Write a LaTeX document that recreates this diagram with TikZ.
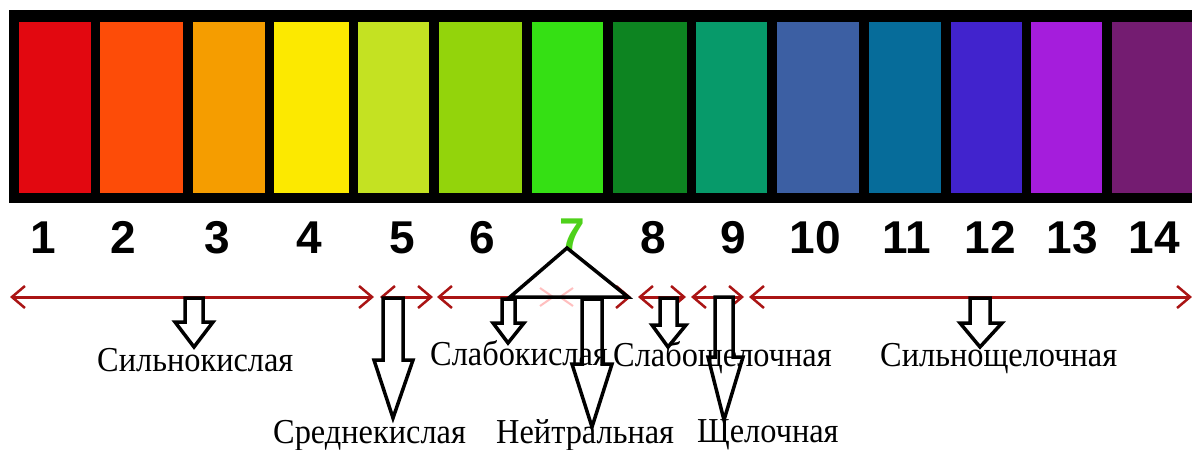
\documentclass[tikz,border=0pt]{standalone}
\usepackage{fontspec}
\setmainfont{Liberation Serif}
\newfontfamily\numfont{Liberation Sans}
\usetikzlibrary{arrows.meta}
\definecolor{c1}{RGB}{226,8,16}
\definecolor{c2}{RGB}{253,76,8}
\definecolor{c3}{RGB}{245,157,0}
\definecolor{c4}{RGB}{252,233,0}
\definecolor{c5}{RGB}{196,226,34}
\definecolor{c6}{RGB}{147,212,11}
\definecolor{c7}{RGB}{53,224,20}
\definecolor{c8}{RGB}{13,132,33}
\definecolor{c9}{RGB}{7,154,106}
\definecolor{c10}{RGB}{60,95,163}
\definecolor{c11}{RGB}{6,108,154}
\definecolor{c12}{RGB}{65,35,205}
\definecolor{c13}{RGB}{165,29,220}
\definecolor{c14}{RGB}{116,28,113}
\definecolor{rangered}{RGB}{170,20,20}
\definecolor{sevengreen}{RGB}{78,209,26}
\tikzset{
  num/.style={font=\numfont\bfseries\fontsize{46}{46}\selectfont, anchor=base, inner sep=0pt},
  lbl/.style={font=\fontsize{35}{35}\selectfont, anchor=base west, inner sep=0pt, xscale=0.925},
  rangearr/.style={draw=rangered, line width=3pt, {Straight Barb[length=13pt,width=22pt,line width=2.5pt]}-{Straight Barb[length=13pt,width=22pt,line width=2.5pt]}},
  blk/.style={draw=black, fill=white, line width=3.5pt, line join=miter},
  tri/.style={draw=black, line width=3.5pt, line join=miter},
}
\newcommand\blockarr[8]{%
  \draw[blk] (#1,#3) -- (#2,#3) -- (#2,#4) -- (#6,#4) -- (#7,#8) -- (#5,#4) -- (#1,#4) -- cycle;}
\begin{document}
\begin{tikzpicture}[x=1pt,y=-1pt]
\useasboundingbox (0,0) rectangle (1192,450);
\fill[white] (0,0) rectangle (1192,450);
% black frame
\fill[black] (9,10) rectangle (1192,203);
% colour cells
\foreach \c/\a/\b in {c1/19/91, c2/100/183, c3/193/265, c4/274/349, c5/358/429, c6/439/522, c7/532/603, c8/613/687, c9/696/767, c10/777/859, c11/869/941, c12/951/1022, c13/1031/1102, c14/1112/1192}
  \fill[\c] (\a,22) rectangle (\b,193);
% numbers
\node[num] (n1) at (43,253) {1};
\node[num] (n2) at (123,253) {2};
\node[num] (n3) at (217,253) {3};
\node[num] (n4) at (309,253) {4};
\node[num] (n5) at (402,253) {5};
\node[num] (n6) at (482,253) {6};
\node[num, text=sevengreen] (n7) at (572,250) {7};
\node[num] (n8) at (653,253) {8};
\node[num] (n9) at (733,253) {9};
\node[num] (n10) at (815,253) {10};
\node[num] (n11) at (907,253) {11};
\node[num] (n12) at (990,253) {12};
\node[num] (n13) at (1072,253) {13};
\node[num] (n14) at (1154,253) {14};
% ranges
\coordinate (r1a) at (10,297);  \coordinate (r1b) at (374,297);
\coordinate (r2a) at (380,297); \coordinate (r2b) at (433,297);
\coordinate (r3a) at (437,297); \coordinate (r3b) at (631,297);
\coordinate (r4a) at (638,297); \coordinate (r4b) at (686,297);
\coordinate (r5a) at (691,297); \coordinate (r5b) at (744,297);
\coordinate (r6a) at (749,297); \coordinate (r6b) at (1192,297);
\draw[rangearr] (r1a) -- (r1b);
\draw[rangearr] (r2a) -- (r2b);
\draw[rangearr] (r3a) -- (r3b);
\draw[rangearr] (r4a) -- (r4b);
\draw[rangearr] (r5a) -- (r5b);
\draw[rangearr] (r6a) -- (r6b);
% faint marks
\draw[red!25, line width=2pt] (540,288) -- (553,297) -- (540,306);
\draw[red!25, line width=2pt] (573,288) -- (560,297) -- (573,306);
% triangle from 7
\coordinate (tA) at (567,248);
\coordinate (tL) at (510,297);
\coordinate (tR) at (628,297);
\draw[tri] (tA) -- (tL) -- (tR) -- cycle;
% block arrows
\blockarr{185}{203}{298}{322}{175}{213}{194}{347}
\blockarr{383}{403}{298}{360}{374}{413}{393}{418}
\blockarr{502}{515}{299}{323}{493}{524}{508}{343}
\blockarr{582}{602}{299}{364}{572}{612}{592}{427}
\blockarr{660}{677}{298}{325}{652}{686}{668}{347}
\blockarr{715}{733}{297}{357}{708}{743}{724}{420}
\blockarr{970}{990}{298}{323}{960}{1002}{980}{347}
% labels
\node[lbl] (s1) at (97,371) {Сильнокислая};
\node[lbl] (s2) at (273,443) {Среднекислая};
\node[lbl] (s3) at (430,365) {Слабокислая};
\node[lbl] (s4) at (496,443) {Нейтральная};
\node[lbl] (s5) at (613,366) {Слабощелочная};
\node[lbl] (s6) at (697,442) {Щелочная};
\node[lbl] (s7) at (880,366) {Сильнощелочная};
\end{tikzpicture}
\end{document}
